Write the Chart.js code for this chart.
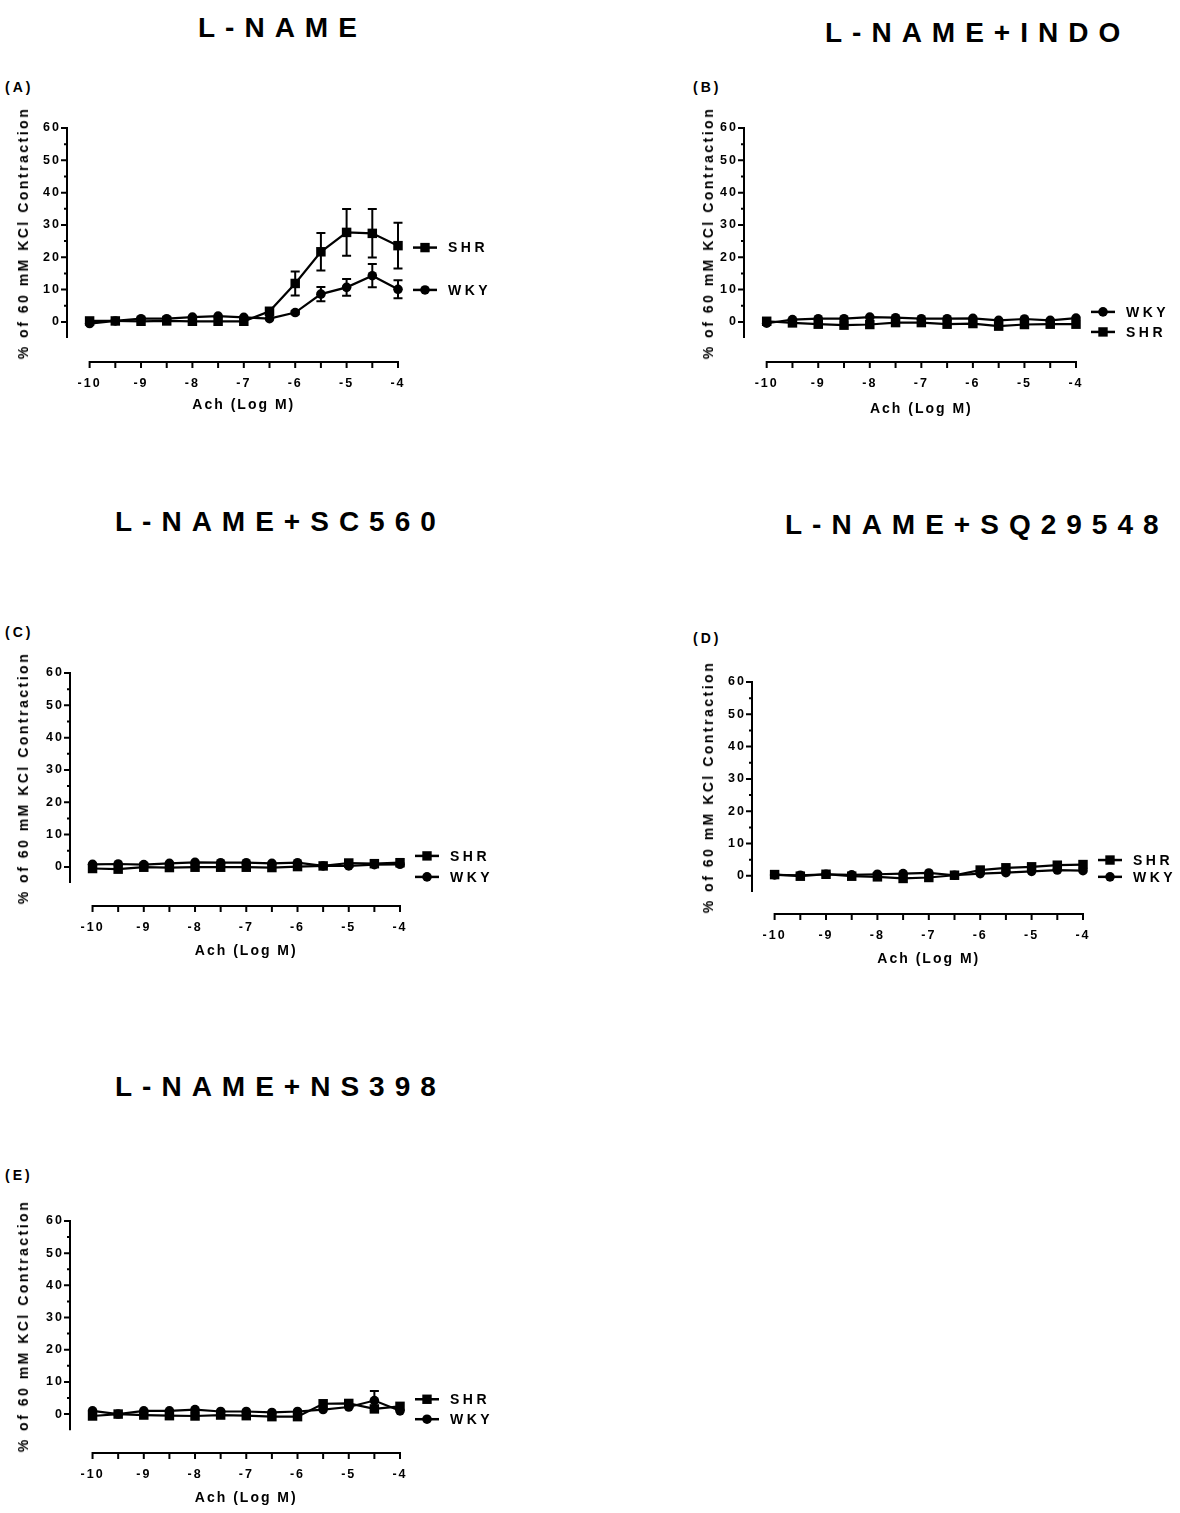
<!DOCTYPE html>
<html>
<head>
<meta charset="utf-8">
<script src="https://cdn.jsdelivr.net/npm/chart.js@4.4.1/dist/chart.umd.min.js"></script>
<style>
  body { margin: 0; background: #fff; width: 1180px; height: 1513px; position: relative; overflow: hidden;
         font-family: "Liberation Sans", Arial, sans-serif; font-weight: bold; color: #000; }
  canvas { position: absolute; }
  .txt { position: absolute; white-space: nowrap; line-height: 1; }
  .title { font-size: 28px; letter-spacing: 10px; }
  .letter { font-size: 14px; letter-spacing: 3px; }
  .xt { font-size: 14px; letter-spacing: 2px; transform: translate(-50%, -50%); }
  .yt { font-size: 14px; letter-spacing: 2.5px; transform: translate(-50%, -50%) rotate(-90deg); }
</style>
</head>
<body>
<script>
// Ach doses (log M) and axis ticks
const doses = [-10, -9.5, -9, -8.5, -8, -7.5, -7, -6.5, -6, -5.5, -5, -4.5, -4];
const xTicks = [-10, -9, -8, -7, -6, -5, -4];
const yTicks = [0, 10, 20, 30, 40, 50, 60];

const titles = ['L-NAME', 'L-NAME+INDO', 'L-NAME+SC560', 'L-NAME+SQ29548', 'L-NAME+NS398'];
const letters = ['(A)', '(B)', '(C)', '(D)', '(E)'];
const xTitle = 'Ach (Log M)';
const yTitle = '% of 60 mM KCl Contraction';

// (A) L-NAME
const shrA    = [0.3, 0.3, 0.2, 0.3, 0.2, 0.2, 0.2, 3.3, 11.9, 21.7, 27.7, 27.4, 23.6];
const shrErrA = [0, 0, 0, 0, 0, 0, 0, 0.5, 3.7, 5.8, 7.2, 7.5, 7.1];
const wkyA    = [-0.5, 0.3, 1.0, 1.0, 1.5, 1.8, 1.4, 1.0, 2.9, 8.6, 10.7, 14.3, 10.1];
const wkyErrA = [0, 0, 0, 0, 0, 0, 0, 0, 0.5, 2.2, 2.6, 3.6, 2.8];
// (B) L-NAME+INDO
const shrB = [0.2, -0.3, -0.7, -1.0, -0.8, -0.2, -0.2, -0.7, -0.5, -1.3, -0.8, -0.7, -0.7];
const wkyB = [-0.4, 0.7, 1.0, 1.0, 1.5, 1.3, 1.0, 1.0, 1.1, 0.5, 0.9, 0.5, 1.2];
// (C) L-NAME+SC560
const shrC = [-0.5, -0.7, -0.1, -0.2, -0.1, -0.1, -0.1, -0.2, 0.1, 0.3, 1.2, 1.0, 1.3];
const wkyC = [0.8, 0.9, 0.7, 1.1, 1.4, 1.3, 1.3, 1.1, 1.3, 0.3, 0.3, 0.7, 0.8];
// (D) L-NAME+SQ29548
const shrD = [0.4, -0.1, 0.5, -0.1, -0.3, -0.8, -0.5, 0.2, 1.8, 2.5, 2.8, 3.3, 3.5];
const wkyD = [0.3, 0.2, 0.5, 0.3, 0.5, 0.7, 0.9, 0.2, 0.7, 1.0, 1.4, 1.8, 1.6];
// (E) L-NAME+NS398
const shrE    = [-0.6, 0.0, -0.3, -0.5, -0.6, -0.3, -0.5, -0.8, -0.8, 3.2, 3.3, 1.6, 2.4];
const wkyE    = [1.0, 0.0, 1.0, 1.0, 1.4, 0.8, 0.8, 0.5, 0.8, 1.4, 2.2, 4.2, 1.0];
const wkyErrE = [0, 0, 0, 0, 0, 0, 0, 0, 0, 0, 0, 3.0, 0];

// layout of each panel (page pixels); legend = [label, y level in data units]
const panels = [
  { shr: shrA, wky: wkyA, shrErr: shrErrA, wkyErr: wkyErrA, legend: [['SHR', 23], ['WKY', 9.9]],
    left: 0, width: 510, axisX: 67, right: 398, y60: 128, axisY: 362, yMin: -12.4,
    titlePos: [198, 14], letterPos: [5, 80], yTitleX: 23, xTitleY: 404 },
  { shr: shrB, wky: wkyB, legend: [['WKY', 3.1], ['SHR', -3.1]],
    left: 680, width: 500, axisX: 744, right: 1076, y60: 128, axisY: 362, yMin: -12.4,
    titlePos: [825, 19], letterPos: [693, 80], yTitleX: 708, xTitleY: 408 },
  { shr: shrC, wky: wkyC, legend: [['SHR', 3.4], ['WKY', -3.1]],
    left: 0, width: 510, axisX: 70, right: 400, y60: 673, axisY: 906, yMin: -12.1,
    titlePos: [115, 508], letterPos: [5, 625], yTitleX: 23, xTitleY: 950 },
  { shr: shrD, wky: wkyD, legend: [['SHR', 4.9], ['WKY', -0.3]],
    left: 680, width: 500, axisX: 752, right: 1083, y60: 682, axisY: 914, yMin: -11.8,
    titlePos: [785, 511], letterPos: [693, 631], yTitleX: 708, xTitleY: 958 },
  { shr: shrE, wky: wkyE, wkyErr: wkyErrE, legend: [['SHR', 4.6], ['WKY', -1.6]],
    left: 0, width: 510, axisX: 70, right: 400, y60: 1221, axisY: 1453, yMin: -12.1,
    titlePos: [115, 1073], letterPos: [5, 1168], yTitleX: 23, xTitleY: 1497 }
];

function drawMarker(ctx, style, x, y) {
  ctx.beginPath();
  if (style === 'rect') ctx.rect(x - 4.7, y - 4.7, 9.4, 9.4);
  else ctx.arc(x, y, 4.8, 0, Math.PI * 2);
  ctx.fill();
}

const prismPlugin = {
  id: 'prism',
  beforeDraw(chart) {
    chart.ctx.letterSpacing = '2px';
  },
  beforeDatasetsDraw(chart) {
    const { ctx, chartArea, scales: { x, y } } = chart;
    ctx.save();
    ctx.strokeStyle = '#000';
    ctx.lineWidth = 2;
    ctx.beginPath();
    // y axis, stops a little under zero
    const ax = chartArea.left;
    ctx.moveTo(ax, y.getPixelForValue(60) - 1);
    ctx.lineTo(ax, y.getPixelForValue(-5));
    for (let v = 0; v <= 60; v += 5) {
      const py = y.getPixelForValue(v);
      ctx.moveTo(ax, py);
      ctx.lineTo(ax - (v % 10 === 0 ? 6 : 3), py);
    }
    // x axis, detached below
    const ay = chartArea.bottom;
    ctx.moveTo(x.getPixelForValue(doses[0]) - 1, ay);
    ctx.lineTo(x.getPixelForValue(doses[doses.length - 1]) + 1, ay);
    doses.forEach(d => {
      const px = x.getPixelForValue(d);
      ctx.moveTo(px, ay);
      ctx.lineTo(px, ay + 6);
    });
    ctx.stroke();

    // error bars (SEM)
    ctx.beginPath();
    chart.data.datasets.forEach(ds => {
      if (!ds.errors) return;
      ds.errors.forEach((e, i) => {
        if (!e) return;
        const px = x.getPixelForValue(doses[i]);
        const top = y.getPixelForValue(ds.data[i].y + e);
        const bot = y.getPixelForValue(ds.data[i].y - e);
        ctx.moveTo(px, top); ctx.lineTo(px, bot);
        ctx.moveTo(px - 4.5, top); ctx.lineTo(px + 4.5, top);
        ctx.moveTo(px - 4.5, bot); ctx.lineTo(px + 4.5, bot);
      });
    });
    ctx.stroke();
    ctx.restore();
  },
  afterDraw(chart) {
    const { ctx, chartArea, scales: { y } } = chart;
    const legend = chart.options.plugins.prism.legend;
    ctx.save();
    ctx.fillStyle = '#000';
    ctx.strokeStyle = '#000';
    ctx.lineWidth = 2.5;
    ctx.textBaseline = 'middle';
    ctx.font = 'bold 14px "Liberation Sans", Arial, sans-serif';
    ctx.letterSpacing = '3.5px';
    legend.forEach(([label, level]) => {
      const ds = chart.data.datasets.find(d => d.label === label);
      const py = y.getPixelForValue(level);
      const x0 = chartArea.right + 15;
      ctx.beginPath();
      ctx.moveTo(x0, py); ctx.lineTo(x0 + 24, py);
      ctx.stroke();
      drawMarker(ctx, ds.pointStyle, x0 + 12, py);
      ctx.fillText(label, x0 + 35, py + 1);
    });
    ctx.restore();
  }
};

function addText(cls, text, x, y) {
  const d = document.createElement('div');
  d.className = 'txt ' + cls;
  d.textContent = text;
  d.style.left = x + 'px';
  d.style.top = y + 'px';
  document.body.appendChild(d);
}

const tickFont = { family: '"Liberation Sans", Arial, sans-serif', weight: 'bold', size: 12.5 };

panels.forEach((p, k) => {
  const top = p.y60 - 18;
  const height = (p.axisY - p.y60) + 18 + 52;
  const canvas = document.createElement('canvas');
  canvas.width = p.width;
  canvas.height = height;
  canvas.style.left = p.left + 'px';
  canvas.style.top = top + 'px';
  document.body.appendChild(canvas);

  const chart = new Chart(canvas, {
    type: 'line',
    data: {
      datasets: [
        { label: 'SHR', data: doses.map((d, i) => ({ x: d, y: p.shr[i] })), errors: p.shrErr,
          borderColor: '#000', backgroundColor: '#000', borderWidth: 2.2,
          pointStyle: 'rect', pointRadius: 6.7, pointBorderWidth: 0, clip: false },
        { label: 'WKY', data: doses.map((d, i) => ({ x: d, y: p.wky[i] })), errors: p.wkyErr,
          borderColor: '#000', backgroundColor: '#000', borderWidth: 2.2,
          pointStyle: 'circle', pointRadius: 4.8, pointBorderWidth: 0, clip: false }
      ]
    },
    options: {
      responsive: false,
      animation: false,
      events: [],
      layout: { padding: { left: 0, top: 18, right: p.width - (p.right - p.left), bottom: 0 } },
      plugins: {
        legend: { display: false },
        tooltip: { enabled: false },
        prism: { legend: p.legend }
      },
      scales: {
        x: {
          type: 'linear', min: -10.44, max: -4,
          border: { display: false },
          grid: { display: false, drawTicks: false },
          afterBuildTicks: s => { s.ticks = xTicks.map(v => ({ value: v })); },
          afterFit: s => { s.height = height - (p.axisY - top); },
          ticks: { padding: 14, color: '#000', font: tickFont, maxRotation: 0, autoSkip: false,
                   callback: v => String(v) }
        },
        y: {
          min: p.yMin, max: 60,
          border: { display: false },
          grid: { display: false, drawTicks: false },
          afterBuildTicks: s => { s.ticks = yTicks.map(v => ({ value: v })); },
          afterFit: s => { s.width = p.axisX - p.left; },
          ticks: { padding: 6, color: '#000', font: tickFont, callback: v => String(v) }
        }
      }
    },
    plugins: [prismPlugin]
  });

  const ys = chart.scales.y, xs = chart.scales.x;
  addText('title', titles[k], p.titlePos[0], p.titlePos[1]);
  addText('letter', letters[k], p.letterPos[0], p.letterPos[1]);
  const midY = top + (ys.getPixelForValue(60) + ys.getPixelForValue(-5)) / 2;
  addText('yt', yTitle, p.yTitleX, midY);
  const midX = p.left + (xs.getPixelForValue(-10) + xs.getPixelForValue(-4)) / 2;
  addText('xt', xTitle, midX, p.xTitleY);
});
</script>
</body>
</html>
